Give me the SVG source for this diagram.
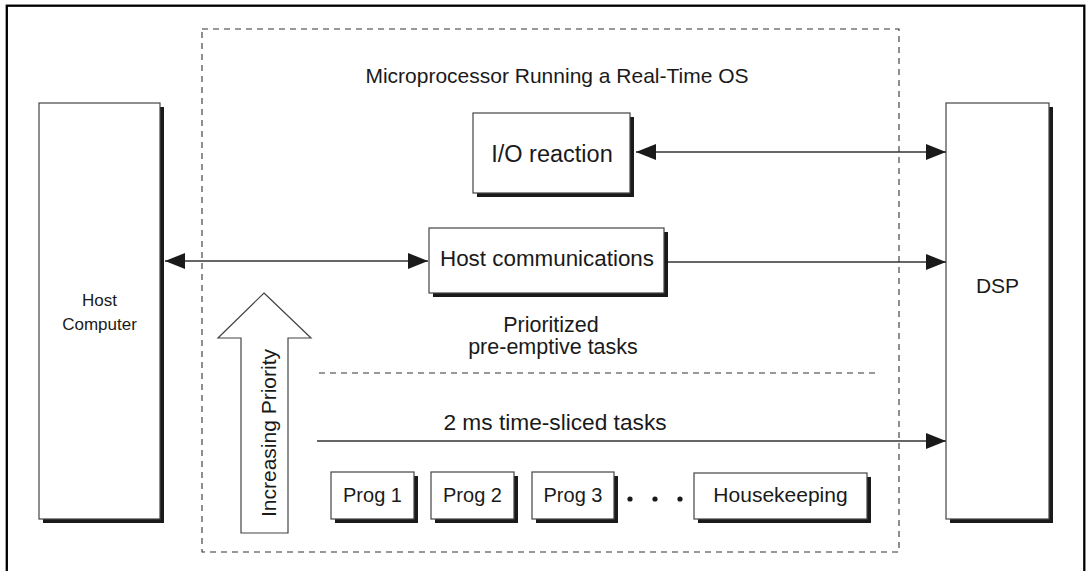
<svg xmlns="http://www.w3.org/2000/svg" width="1086" height="571" viewBox="0 0 1086 571">
<defs>
<marker id="ah" markerUnits="userSpaceOnUse" markerWidth="20" markerHeight="16" refX="20" refY="8" orient="auto-start-reverse" viewBox="0 0 20 16">
<path d="M0,0 L20,8 L0,16 z" fill="#1a1a1a"/>
</marker>
<style>
.box{fill:#fff;stroke:#444;stroke-width:1.2}
.sh{fill:#1a1a1a}
.t{font-family:"Liberation Sans",Arial,sans-serif;fill:#1a1a1a;text-anchor:middle}
.ln{stroke:#333;stroke-width:1.3;fill:none}
.dash{stroke:#333;stroke-width:1.1;fill:none;stroke-dasharray:6 5}
</style>
</defs>
<rect width="1086" height="571" fill="#fff"/>
<rect x="6.8" y="5.7" width="1077.5" height="600" fill="none" stroke="#000" stroke-width="2.3"/>

<g id="rtos-frame">
<rect class="dash" x="202" y="29" width="697" height="523"/>
<text class="t" x="557" y="83" font-size="21">Microprocessor Running a Real-Time OS</text>
<line class="dash" x1="319" y1="373" x2="880" y2="373"/>
<text class="t" x="551" y="332" font-size="21.5">Prioritized</text>
<text class="t" x="553" y="354" font-size="21.5">pre-emptive tasks</text>
<text class="t" x="555" y="430" font-size="22.7">2 ms time-sliced tasks</text>
</g>

<g id="host-computer">
<rect class="sh" x="43" y="107" width="121" height="416"/>
<rect class="box" x="39" y="103" width="121" height="416"/>
<text class="t" x="99.5" y="306" font-size="17">Host</text>
<text class="t" x="99.5" y="330" font-size="17">Computer</text>
</g>

<g id="dsp">
<rect class="sh" x="950" y="107" width="103" height="416"/>
<rect class="box" x="946" y="103" width="103" height="416"/>
<text class="t" x="997.5" y="293" font-size="21">DSP</text>
</g>

<g id="io-reaction">
<rect class="sh" x="477" y="117" width="157" height="80"/>
<rect class="box" x="473" y="113" width="157" height="80"/>
<text class="t" x="552" y="162" font-size="23.5">I/O reaction</text>
</g>

<g id="host-comm">
<rect class="sh" x="433" y="232" width="235" height="65"/>
<rect class="box" x="429" y="228" width="235" height="65"/>
<text class="t" x="547" y="266" font-size="22.4">Host communications</text>
</g>

<g id="priority-arrow">
<path d="M264,293 L311,338 L288,338 L288,533 L241,533 L241,338 L218,338 Z" fill="#fff" stroke="#444" stroke-width="1.2"/>
<text class="t" transform="translate(276,433) rotate(-90)" font-size="21">Increasing Priority</text>
</g>

<g id="prog1">
<rect class="sh" x="335" y="476" width="83" height="47"/>
<rect class="box" x="331" y="472" width="83" height="47"/>
<text class="t" x="372.5" y="502" font-size="20">Prog 1</text>
</g>
<g id="prog2">
<rect class="sh" x="435" y="476" width="83" height="47"/>
<rect class="box" x="431" y="472" width="83" height="47"/>
<text class="t" x="472.5" y="502" font-size="20">Prog 2</text>
</g>
<g id="prog3">
<rect class="sh" x="536" y="476" width="82" height="47"/>
<rect class="box" x="532" y="472" width="82" height="47"/>
<text class="t" x="573" y="502" font-size="20">Prog 3</text>
</g>
<g id="ellipsis">
<circle cx="630" cy="499" r="2.6" fill="#1a1a1a"/>
<circle cx="655" cy="499" r="2.6" fill="#1a1a1a"/>
<circle cx="680" cy="499" r="2.6" fill="#1a1a1a"/>
</g>
<g id="housekeeping">
<rect class="sh" x="698" y="477" width="173" height="46"/>
<rect class="box" x="694" y="473" width="173" height="46"/>
<text class="t" x="780.5" y="502" font-size="21">Housekeeping</text>
</g>

<g id="connectors">
<line class="ln" x1="636" y1="152" x2="946" y2="152" marker-start="url(#ah)" marker-end="url(#ah)"/>
<line class="ln" x1="165" y1="261" x2="428" y2="261" marker-start="url(#ah)" marker-end="url(#ah)"/>
<line class="ln" x1="668" y1="262" x2="946" y2="262" marker-end="url(#ah)"/>
<line class="ln" x1="317" y1="441" x2="946" y2="441" marker-end="url(#ah)"/>
</g>
</svg>
